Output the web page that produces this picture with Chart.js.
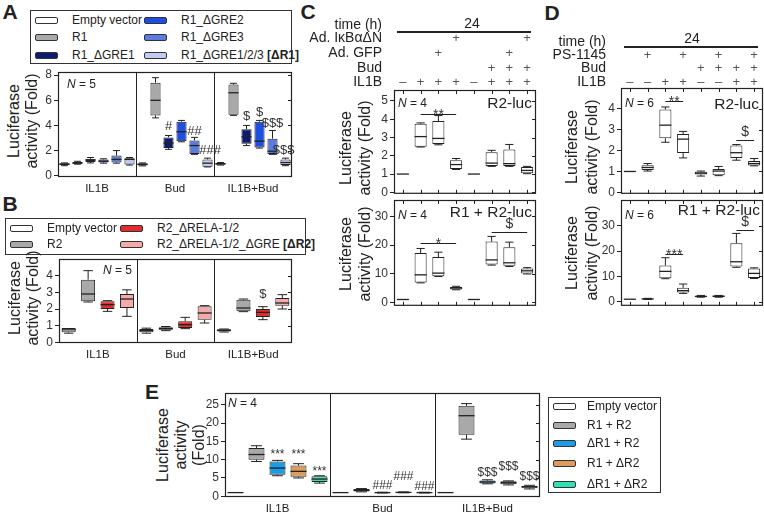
<!DOCTYPE html>
<html>
<head>
<meta charset="utf-8">
<script src="https://cdn.jsdelivr.net/npm/chart.js@4.4.1/dist/chart.umd.min.js"></script>
<style>
  body { margin: 0; background: #fff; }
  #fig { position: relative; width: 764px; height: 516px; overflow: hidden; font-family: "Liberation Sans", Arial, sans-serif; color: #222; }
  #fig canvas { position: absolute; }
  .t { position: absolute; white-space: nowrap; line-height: 1; }
  .box { position: absolute; border: 1px solid #333; box-sizing: border-box; }
  .sw { position: absolute; width: 23px; height: 7px; border: 1px solid #333; border-radius: 2px; box-sizing: border-box; }
</style>
</head>
<body>
<div id="fig"></div>
<script>
const FONT = '"Liberation Sans", Arial, sans-serif';
const INK = '#222';
const fig = document.getElementById('fig');

// ---- A: R1 reporter constructs ----
const aGroups = ['IL1B', 'Bud', 'IL1B+Bud'];
const aSeries = ['Empty vector', 'R1', 'R1_ΔGRE1', 'R1_ΔGRE2', 'R1_ΔGRE3', 'R1_ΔGRE1/2/3 <b>[ΔR1]</b>'];
const aColors = ['#ffffff', '#a9a9a9', '#0d1b70', '#1d4fe3', '#5a7be0', '#c3cbf1'];
const aMin = [0.80, 0.92, 1.02, 1.00, 1.00, 0.85, 0.78, 4.60, 2.10, 2.70, 1.70, 0.70, 0.85, 4.80, 2.40, 2.20, 1.70, 0.80];
const aQ1  = [0.85, 0.95, 1.10, 1.05, 1.05, 0.90, 0.82, 4.80, 2.20, 2.75, 1.72, 0.72, 0.88, 4.85, 2.55, 2.25, 1.72, 0.85];
const aMed = [0.92, 1.00, 1.25, 1.15, 1.30, 1.30, 0.90, 6.00, 2.60, 3.50, 2.40, 1.00, 0.95, 6.60, 3.10, 2.75, 1.95, 1.05];
const aQ3  = [1.00, 1.10, 1.35, 1.30, 1.60, 1.40, 1.00, 7.40, 3.05, 4.30, 2.80, 1.30, 1.02, 7.25, 3.70, 4.30, 2.95, 1.30];
const aMax = [1.02, 1.15, 1.45, 1.35, 2.00, 1.45, 1.02, 7.80, 3.20, 4.40, 3.05, 1.40, 1.05, 7.35, 4.00, 4.40, 3.60, 1.40];
const aTicks = [0, 2, 4, 6, 8];
const aNotes = [[8, 3.9, '#'], [10, 3.55, '##'], [11.2, 2.0, '###'], [14, 4.7, '$'], [15, 5.0, '$'], [16, 4.2, '$$$'], [16.85, 2.0, '$$$']];

// ---- B: R2 reporter constructs ----
const bGroups = ['IL1B', 'Bud', 'IL1B+Bud'];
const bSeries = ['Empty vector', 'R2', 'R2_ΔRELA-1/2', 'R2_ΔRELA-1/2_ΔGRE <b>[ΔR2]</b>'];
const bColors = ['#ffffff', '#a9a9a9', '#e52b2b', '#f5aaaa'];
const bMin = [0.55, 2.42, 1.86, 1.56, 0.55, 0.70, 0.82, 1.16, 0.62, 1.84, 1.36, 2.00];
const bQ1  = [0.60, 2.46, 2.00, 2.06, 0.60, 0.75, 0.86, 1.36, 0.65, 1.86, 1.52, 2.20];
const bMed = [0.75, 2.90, 2.26, 2.60, 0.70, 0.82, 1.06, 1.76, 0.72, 2.06, 1.80, 2.36];
const bQ3  = [0.86, 3.76, 2.46, 2.90, 0.80, 0.90, 1.26, 2.16, 0.78, 2.56, 2.00, 2.66];
const bMax = [0.86, 4.30, 2.50, 3.15, 0.85, 0.95, 1.50, 2.20, 0.80, 2.60, 2.14, 2.86];
const bTicks = [0, 1, 2, 3, 4];
const bNotes = [[10, 2.9, '$']];

// ---- C: IκBαΔN / GFP adenovirus ----
const cRowIkba = ['', '', '', '+', '', '', '', '+'];
const cRowGfp  = ['', '', '+', '', '', '', '+', ''];
const cRowBud  = ['', '', '', '', '', '+', '+', '+'];
const cRowIl1b = ['–', '+', '+', '+', '–', '+', '+', '+'];
const c1Min = [1, 2.48, 2.60, 1.25, 1, 1.42, 1.42, 1.02];
const c1Q1  = [1, 2.50, 2.65, 1.28, 1, 1.44, 1.44, 1.05];
const c1Med = [1, 3.05, 2.95, 1.52, 1, 1.60, 1.57, 1.20];
const c1Q3  = [1, 3.75, 3.90, 1.76, 1, 2.20, 2.35, 1.38];
const c1Max = [1, 3.80, 4.20, 1.85, 1, 2.30, 2.62, 1.42];
const c1Ticks = [0, 1, 2, 3, 4, 5];
const c1Sig = [[1, 3, 4.27, '**']];
const c2Min = [1, 6.8, 9.0, 4.4, 1, 13.0, 12.5, 9.9];
const c2Q1  = [1, 6.9, 9.1, 4.5, 1, 13.2, 12.8, 10.1];
const c2Med = [1, 9.6, 10.2, 5.0, 1, 14.8, 13.8, 11.0];
const c2Q3  = [1, 17.2, 15.8, 5.4, 1, 21.2, 19.2, 11.8];
const c2Max = [1, 18.8, 17.5, 5.6, 1, 23.0, 21.0, 12.1];
const c2Ticks = [0, 10, 20, 30];
const c2Sig = [[1, 3, 20.8, '*'], [5, 7, 24.6, '$']];

// ---- D: PS-1145 ----
const dRowPs   = ['', '+', '', '+', '', '+', '', '+'];
const dRowBud  = ['', '', '', '', '+', '+', '+', '+'];
const dRowIl1b = ['–', '–', '+', '+', '–', '–', '+', '+'];
const d1Min = [1, 1.02, 2.40, 1.65, 0.78, 0.80, 1.54, 1.27];
const d1Q1  = [1, 1.07, 2.59, 1.88, 0.86, 0.82, 1.65, 1.29];
const d1Med = [1, 1.19, 3.22, 2.55, 0.92, 1.02, 1.90, 1.38];
const d1Q3  = [1, 1.30, 3.97, 2.79, 0.99, 1.12, 2.24, 1.50];
const d1Max = [1, 1.38, 4.09, 2.92, 1.02, 1.24, 2.29, 1.62];
const d1Ticks = [0, 1, 2, 3, 4];
const d1Sig = [[2, 3, 4.36, '**'], [6, 7, 2.52, '$']];
const d2Min = [1, 0.9, 9.1, 3.3, 1.8, 1.8, 13.6, 9.2];
const d2Q1  = [1, 0.95, 9.3, 3.7, 1.9, 1.9, 13.9, 9.4];
const d2Med = [1, 1.1, 12.0, 4.4, 2.1, 2.2, 15.8, 11.2];
const d2Q3  = [1, 1.3, 14.3, 5.5, 2.4, 2.4, 23.1, 13.1];
const d2Max = [1, 1.35, 17.4, 7.0, 2.5, 2.5, 27.0, 13.4];
const d2Ticks = [0, 10, 20, 30];
const d2Sig = [[2, 3, 19.0, '***'], [6, 7, 28.3, '$']];

// ---- E: combined reporters ----
const eGroups = ['IL1B', 'Bud', 'IL1B+Bud'];
const eSeries = ['Empty vector', 'R1 + R2', 'ΔR1 + R2', 'R1 + ΔR2', 'ΔR1 + ΔR2'];
const eColors = ['#ffffff', '#a9a9a9', '#1b9de6', '#dc9c5c', '#2fe0b0'];
const eMin = [1, 9.5, 5.6, 5.0, 3.6, 1, 1.2, 0.9, 0.95, 0.9, 1, 15.6, 3.4, 3.1, 2.0];
const eQ1  = [1, 10.0, 5.9, 5.3, 3.9, 1, 1.3, 0.95, 1.0, 0.95, 1, 16.8, 3.5, 3.3, 2.2];
const eMed = [1, 11.4, 7.7, 6.8, 4.7, 1, 1.6, 1.0, 1.05, 1.0, 1, 22.0, 3.9, 3.7, 2.6];
const eQ3  = [1, 13.2, 9.5, 8.4, 5.5, 1, 2.0, 1.05, 1.15, 1.05, 1, 24.7, 4.3, 4.1, 2.9];
const eMax = [1, 13.8, 9.8, 8.9, 5.6, 1, 2.1, 1.1, 1.2, 1.1, 1, 25.3, 4.5, 4.2, 3.0];
const eTicks = [0, 5, 10, 15, 20, 25];
const eNotes = [[2, 12.3, '***'], [3, 12.3, '***'], [4, 7.6, '***'], [7, 2.9, '###'], [8, 5.4, '###'], [9, 2.7, '###'], [12, 6.5, '$$$'], [13, 8.1, '$$$'], [14, 5.4, '$$$']];

function line(ctx, x1, y1, x2, y2) {
  ctx.beginPath(); ctx.moveTo(x1, y1); ctx.lineTo(x2, y2); ctx.stroke();
}

function drawPlugin(p) {
  return {
    id: 'boxes',
    afterDatasetsDraw(chart) {
      const ctx = chart.ctx, xs = chart.scales.x, ys = chart.scales.y, a = chart.chartArea;
      const bars = chart.getDatasetMeta(0).data;
      ctx.save();
      ctx.strokeStyle = INK; ctx.fillStyle = INK; ctx.lineWidth = 1;
      // whiskers and medians
      p.med.forEach((m, i) => {
        const x = xs.getPixelForValue(i), hw = bars[i].width / 2, cap = hw * 0.68;
        const yMax = ys.getPixelForValue(p.max[i]), yQ3 = ys.getPixelForValue(p.q3[i]);
        const yQ1 = ys.getPixelForValue(p.q1[i]), yMin = ys.getPixelForValue(p.min[i]);
        if (p.max[i] > p.q3[i]) { line(ctx, x, yQ3, x, yMax); line(ctx, x - cap, yMax, x + cap, yMax); }
        if (p.min[i] < p.q1[i]) { line(ctx, x, yQ1, x, yMin); line(ctx, x - cap, yMin, x + cap, yMin); }
        ctx.lineWidth = 1.3;
        line(ctx, x - hw, ys.getPixelForValue(m), x + hw, ys.getPixelForValue(m));
        ctx.lineWidth = 1;
      });
      // frame, dividers, mirrored ticks
      ctx.lineWidth = 1.2;
      ctx.strokeRect(a.left + 0.5, a.top + 0.5, a.right - a.left - 1, a.bottom - a.top - 1);
      ctx.lineWidth = 1;
      ys.ticks.forEach(t => {
        const y = Math.round(ys.getPixelForValue(t.value)) + 0.5;
        line(ctx, a.right - 4, y, a.right, y);
      });
      if (p.catTicks) {
        p.med.forEach((m, i) => {
          const x = Math.round(xs.getPixelForValue(i)) + 0.5;
          line(ctx, x, a.top, x, a.top + 4);
          line(ctx, x, a.bottom, x, a.bottom - 4);
        });
      }
      if (p.groups) {
        let start = 0;
        const size = p.med.length / p.groups.length;
        ctx.font = '11.5px ' + FONT; ctx.textAlign = 'center'; ctx.textBaseline = 'middle';
        p.groups.forEach((g, gi) => {
          const end = start + size - 1;
          const cx = (xs.getPixelForValue(start) + xs.getPixelForValue(end)) / 2;
          ctx.fillText(g, cx, a.bottom + 12);
          if (gi > 0) {
            const dx = Math.round((xs.getPixelForValue(start - 1) + xs.getPixelForValue(start)) / 2) + 0.5;
            line(ctx, dx, a.top, dx, a.bottom);
          }
          start += size;
        });
      }
      // significance text
      const noteText = (s, x, y, size) => {
        ctx.font = size + 'px ' + FONT; ctx.textAlign = 'center';
        if (s[0] === '*') { ctx.textBaseline = 'alphabetic'; ctx.fillText(s, x, y + size * 0.58); }
        else { ctx.textBaseline = 'middle'; ctx.fillText(s, x, y); }
      };
      ctx.fillStyle = '#333';
      (p.notes || []).forEach(([c, v, s]) => noteText(s, xs.getPixelForValue(c), ys.getPixelForValue(v), p.noteSize || 13));
      (p.sig || []).forEach(([c1, c2, v, s]) => {
        const y = Math.round(ys.getPixelForValue(v)) + 0.5;
        const x1 = xs.getPixelForValue(c1), x2 = xs.getPixelForValue(c2);
        line(ctx, x1, y, x2, y);
        ctx.font = '14px ' + FONT; ctx.textAlign = 'center';
        if (s[0] === '*') { ctx.textBaseline = 'alphabetic'; ctx.fillText(s, (x1 + x2) / 2, y + 4); }
        else { ctx.textBaseline = 'bottom'; ctx.fillText(s, (x1 + x2) / 2, y - 1); }
      });
      // condition header above the plot
      if (p.header) {
        const h = p.header;
        ctx.fillStyle = INK; ctx.font = '14px ' + FONT; ctx.textAlign = 'right'; ctx.textBaseline = 'middle';
        ctx.fillText(h.timeLabel, a.left - h.labelDx, h.timeY);
        ctx.lineWidth = 2;
        line(ctx, a.left + 3, h.lineY, a.right - 5, h.lineY);
        ctx.lineWidth = 1;
        ctx.textAlign = 'center';
        ctx.fillText(h.time, (a.left + a.right) / 2 + h.timeDx, h.timeValueY);
        h.rows.forEach(([label, y, marks]) => {
          ctx.fillStyle = INK; ctx.font = '14px ' + FONT; ctx.textAlign = 'right';
          ctx.fillText(label, a.left - h.labelDx, y);
          ctx.fillStyle = '#555'; ctx.font = '13px ' + FONT; ctx.textAlign = 'center';
          marks.forEach((s, i) => { if (s) ctx.fillText(s, xs.getPixelForValue(i), y); });
        });
      }
      ctx.restore();
    }
  };
}

function boxPanel(p) {
  const n = p.med.length;
  const cv = document.createElement('canvas');
  cv.width = p.L + p.w + p.R;
  cv.height = p.T + p.h + p.B;
  cv.style.left = (p.x - p.L) + 'px';
  cv.style.top = (p.y - p.T) + 'px';
  fig.appendChild(cv);
  const colors = p.med.map((m, i) => p.colors[i % p.colors.length]);
  new Chart(cv, {
    type: 'bar',
    data: {
      labels: p.med.map((m, i) => String(i)),
      datasets: [{
        data: p.q1.map((v, i) => [v, p.q3[i]]),
        backgroundColor: colors,
        borderColor: INK,
        borderWidth: 1,
        borderSkipped: false,
        barPercentage: p.bar,
        categoryPercentage: 1
      }]
    },
    options: {
      responsive: false,
      animation: false,
      devicePixelRatio: 1,
      events: [],
      layout: { padding: { top: p.T, right: p.R, left: 0, bottom: 0 } },
      plugins: { legend: { display: false }, tooltip: { enabled: false } },
      scales: {
        x: {
          offset: true,
          grid: { display: false },
          border: { display: false },
          ticks: { display: false },
          afterFit: s => { s.height = p.B; }
        },
        y: {
          min: p.yMin,
          max: p.yMax,
          afterBuildTicks: s => { s.ticks = p.yTicks.map(v => ({ value: v })); },
          afterFit: s => { s.width = p.L; },
          grid: { drawOnChartArea: false, tickLength: 4, color: INK },
          border: { display: false },
          ticks: { font: { family: FONT, size: 12 }, color: '#333', padding: 2, callback: v => v }
        }
      }
    },
    plugins: [drawPlugin(p)]
  });
}

function txt(x, y, html, size, align, rot) {
  const d = document.createElement('div');
  d.className = 't';
  d.innerHTML = html;
  d.style.left = x + 'px';
  d.style.top = y + 'px';
  d.style.fontSize = size + 'px';
  const tx = align === 'r' ? '-100%' : align === 'c' ? '-50%' : '0';
  d.style.transform = `translate(${tx}, -50%)` + (rot ? ' rotate(-90deg)' : '');
  fig.appendChild(d);
  return d;
}

function legend(box, names, colors, nRows, swX, rowY, textDx) {
  const b = document.createElement('div');
  b.className = 'box';
  b.style.left = box[0] + 'px'; b.style.top = box[1] + 'px';
  b.style.width = box[2] + 'px'; b.style.height = box[3] + 'px';
  fig.appendChild(b);
  names.forEach((name, i) => {
    const col = Math.floor(i / nRows), row = i % nRows;
    const s = document.createElement('div');
    s.className = 'sw';
    s.style.left = swX[col] + 'px';
    s.style.top = (rowY[row] - 3.5) + 'px';
    s.style.background = colors[i];
    fig.appendChild(s);
    txt(swX[col] + textDx, rowY[row], name, 12, 'l');
  });
}

// panel letters
const letter = (x, y, s) => { txt(x, y, s, 21, 'c').style.fontWeight = 'bold'; };
letter(10, 11, 'A'); letter(10, 203, 'B'); letter(308, 11, 'C'); letter(552, 12, 'D'); letter(152, 391, 'E');

// A
legend([30, 10, 262, 54], aSeries, aColors, 3, [35, 144], [20, 37, 55], 37);
boxPanel({ x: 58, y: 72, w: 234, h: 105, L: 22, T: 10, R: 8, B: 22, yMin: -0.1, yMax: 8.25, yTicks: aTicks,
  min: aMin, q1: aQ1, med: aMed, q3: aQ3, max: aMax, colors: aColors, bar: 0.78, groups: aGroups, notes: aNotes });
txt(14, 121, 'Luciferase', 16, 'c', true);
txt(32, 121, 'activity (Fold)', 16, 'c', true);
txt(67, 84, '<i>N</i> = 5', 12, 'l');

// B
legend([5, 218, 301, 37], bSeries, bColors, 2, [10, 120], [228, 244], 37);
boxPanel({ x: 59, y: 259, w: 233, h: 84, L: 22, T: 10, R: 8, B: 22, yMin: -0.04, yMax: 5.0, yTicks: bTicks,
  min: bMin, q1: bQ1, med: bMed, q3: bQ3, max: bMax, colors: bColors, bar: 0.72, groups: bGroups, notes: bNotes });
txt(15, 298, 'Luciferase', 16, 'c', true);
txt(33, 298, 'activity (Fold)', 16, 'c', true);
txt(132, 270, '<i>N</i> = 5', 12, 'r');

// C
boxPanel({ x: 394, y: 90, w: 142, h: 105, L: 94, T: 90, R: 6, B: 8, yMin: -0.08, yMax: 5.6, yTicks: c1Ticks,
  min: c1Min, q1: c1Q1, med: c1Med, q3: c1Q3, max: c1Max, colors: ['#ffffff'], bar: 0.68, catTicks: true, sig: c1Sig,
  header: { timeLabel: 'time (h)', time: '24', timeY: 25, lineY: 32, timeValueY: 24, timeDx: 7, labelDx: 12,
    rows: [['Ad. IκBαΔN', 38, cRowIkba], ['Ad. GFP', 53, cRowGfp], ['Bud', 68, cRowBud], ['IL1B', 82, cRowIl1b]] } });
boxPanel({ x: 394, y: 200, w: 142, h: 107, L: 94, T: 10, R: 6, B: 8, yMin: -1.2, yMax: 35.7, yTicks: c2Ticks,
  min: c2Min, q1: c2Q1, med: c2Med, q3: c2Q3, max: c2Max, colors: ['#ffffff'], bar: 0.68, catTicks: true, sig: c2Sig });
txt(346, 148, 'Luciferase', 16, 'c', true);
txt(365, 148, 'activity (Fold)', 16, 'c', true);
txt(346, 254, 'Luciferase', 16, 'c', true);
txt(365, 254, 'activity (Fold)', 16, 'c', true);
txt(398, 103, '<i>N</i> = 4', 12, 'l');
txt(532, 103, 'R2-luc', 15.5, 'r');
txt(398, 215, '<i>N</i> = 4', 12, 'l');
txt(532, 212, 'R1 + R2-luc', 15.5, 'r');

// D
boxPanel({ x: 621, y: 88, w: 142, h: 107, L: 94, T: 88, R: 1, B: 8, yMin: -0.07, yMax: 5.0, yTicks: d1Ticks,
  min: d1Min, q1: d1Q1, med: d1Med, q3: d1Q3, max: d1Max, colors: ['#ffffff'], bar: 0.68, catTicks: true, sig: d1Sig,
  header: { timeLabel: 'time (h)', time: '24', timeY: 42, lineY: 47, timeValueY: 39, timeDx: 0, labelDx: 15,
    rows: [['PS-1145', 55, dRowPs], ['Bud', 68, dRowBud], ['IL1B', 82, dRowIl1b]] } });
boxPanel({ x: 621, y: 200, w: 142, h: 107, L: 94, T: 10, R: 1, B: 8, yMin: -1.6, yMax: 40.2, yTicks: d2Ticks,
  min: d2Min, q1: d2Q1, med: d2Med, q3: d2Q3, max: d2Max, colors: ['#ffffff'], bar: 0.68, catTicks: true, sig: d2Sig });
txt(572, 147, 'Luciferase', 16, 'c', true);
txt(592, 147, 'activity (Fold)', 16, 'c', true);
txt(572, 253, 'Luciferase', 16, 'c', true);
txt(592, 253, 'activity (Fold)', 16, 'c', true);
txt(625, 103, '<i>N</i> = 6', 12, 'l');
txt(759, 104, 'R2-luc', 15.5, 'r');
txt(625, 215, '<i>N</i> = 6', 12, 'l');
txt(760, 210, 'R1 + R2-luc', 15.5, 'r');

// E
boxPanel({ x: 225, y: 393, w: 315, h: 104, L: 25, T: 10, R: 6, B: 19, yMin: -0.2, yMax: 28.2, yTicks: eTicks,
  min: eMin, q1: eQ1, med: eMed, q3: eQ3, max: eMax, colors: eColors, bar: 0.76, groups: eGroups, notes: eNotes, noteSize: 12 });
legend([548, 397, 113, 96], eSeries, eColors, 5, [553], [406, 425, 443, 463, 484], 34);
txt(163, 445, 'Luciferase', 16, 'c', true);
txt(181, 445, 'activity', 16, 'c', true);
txt(199, 445, '(Fold)', 16, 'c', true);
txt(228, 403, '<i>N</i> = 4', 12, 'l');
</script>
</body>
</html>
